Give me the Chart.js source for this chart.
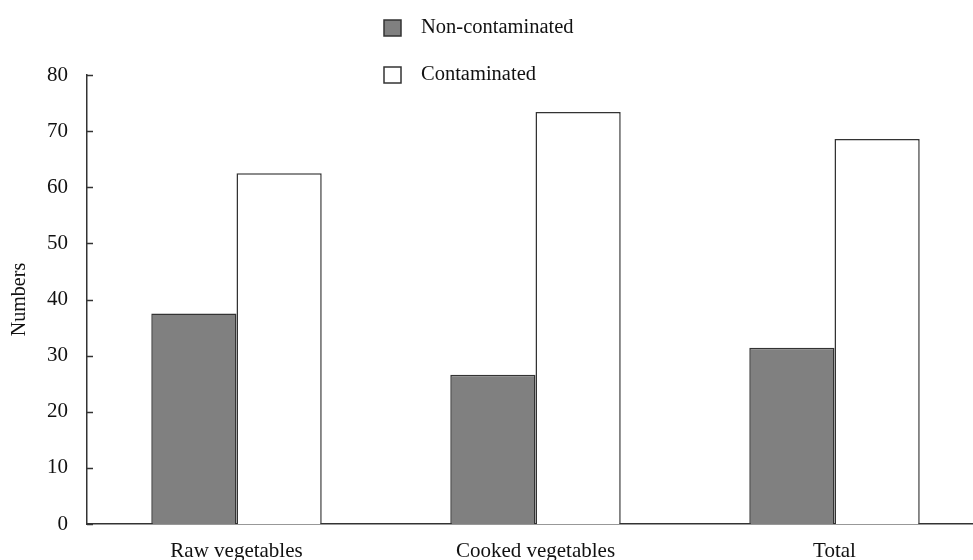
<!DOCTYPE html>
<html>
<head>
<meta charset="utf-8">
<title>Numbers by vegetable type</title>
<script src="https://cdn.jsdelivr.net/npm/chart.js@4"></script>
<style>
  html, body { margin: 0; padding: 0; background: #fff; overflow: hidden; }
  #wrap { width: 990px; height: 580px; position: relative; }
</style>
</head>
<body>
<div id="wrap"><canvas id="barChart"></canvas></div>
<script>
// datos
const categories = ['Raw vegetables', 'Cooked vegetables', 'Total'];
const nonContaminated = [37.5, 26.6, 31.4];
const contaminated = [62.5, 73.4, 68.6];
const yTicks = [0, 10, 20, 30, 40, 50, 60, 70, 80];
const seriesNames = ['Non-contaminated', 'Contaminated'];

const serif = "'Liberation Serif', 'DejaVu Serif', serif";
const inkColor = '#333333';

// ticks hacia dentro del eje y (chart.js solo los dibuja hacia fuera)
const innerTicks = {
    id: 'innerTicks',
    afterDraw(chart) {
        const ctx = chart.ctx;
        const y = chart.scales.y;
        ctx.save();
        ctx.strokeStyle = inkColor;
        ctx.lineWidth = 1.5;
        yTicks.forEach(v => {
            const py = Math.round(y.getPixelForValue(v)) + 0.5;
            ctx.beginPath();
            ctx.moveTo(y.right, py);
            ctx.lineTo(y.right + 6, py);
            ctx.stroke();
        });
        ctx.restore();
    }
};

// leyenda vertical arriba al centro
const stackedLegend = {
    id: 'stackedLegend',
    afterDraw(chart) {
        const ctx = chart.ctx;
        const rows = [28, 75];
        ctx.save();
        chart.data.datasets.forEach((ds, i) => {
            const cy = rows[i];
            ctx.fillStyle = ds.backgroundColor;
            ctx.strokeStyle = inkColor;
            ctx.lineWidth = 1.5;
            ctx.fillRect(384, cy - 8, 17, 16);
            ctx.strokeRect(384, cy - 8, 17, 16);
            ctx.fillStyle = '#111';
            ctx.font = '20.5px ' + serif;
            ctx.textBaseline = 'middle';
            ctx.textAlign = 'left';
            ctx.fillText(ds.label, 421, cy);
        });
        ctx.restore();
    }
};

const ctx = document.getElementById('barChart');

new Chart(ctx, {
    type: 'bar',
    data: {
        labels: categories,
        datasets: [
            {
                label: seriesNames[0],
                data: nonContaminated,
                backgroundColor: '#808080',
                borderColor: inkColor,
                borderWidth: 1.5
            },
            {
                label: seriesNames[1],
                data: contaminated,
                backgroundColor: '#ffffff',
                borderColor: inkColor,
                borderWidth: 1.5
            }
        ]
    },
    options: {
        responsive: true,
        maintainAspectRatio: false,
        animation: false,
        layout: {
            padding: { top: 75, right: 6, bottom: 0, left: 0 }
        },
        datasets: {
            bar: {
                categoryPercentage: 0.57,
                barPercentage: 1.0
            }
        },
        scales: {
            x: {
                grid: { display: false, drawTicks: false },
                border: { display: true, color: inkColor, width: 1.5 },
                ticks: {
                    color: '#111',
                    font: { family: serif, size: 21 },
                    padding: 15,
                    maxRotation: 0
                },
                afterFit(scale) { scale.height = 56; }
            },
            y: {
                min: 0,
                max: 80,
                grid: { display: false, drawTicks: false },
                border: { display: true, color: inkColor, width: 1.5 },
                afterBuildTicks(scale) {
                    scale.ticks = yTicks.map(v => ({ value: v }));
                },
                ticks: {
                    color: '#111',
                    font: { family: serif, size: 21 },
                    padding: 19
                },
                title: {
                    display: true,
                    text: 'Numbers',
                    color: '#111',
                    font: { family: serif, size: 20 },
                    padding: { top: 8, bottom: 6 }
                },
                afterFit(scale) { scale.width = 87; }
            }
        },
        plugins: {
            legend: { display: false },
            tooltip: { enabled: false }
        }
    },
    plugins: [innerTicks, stackedLegend]
});
</script>
</body>
</html>
